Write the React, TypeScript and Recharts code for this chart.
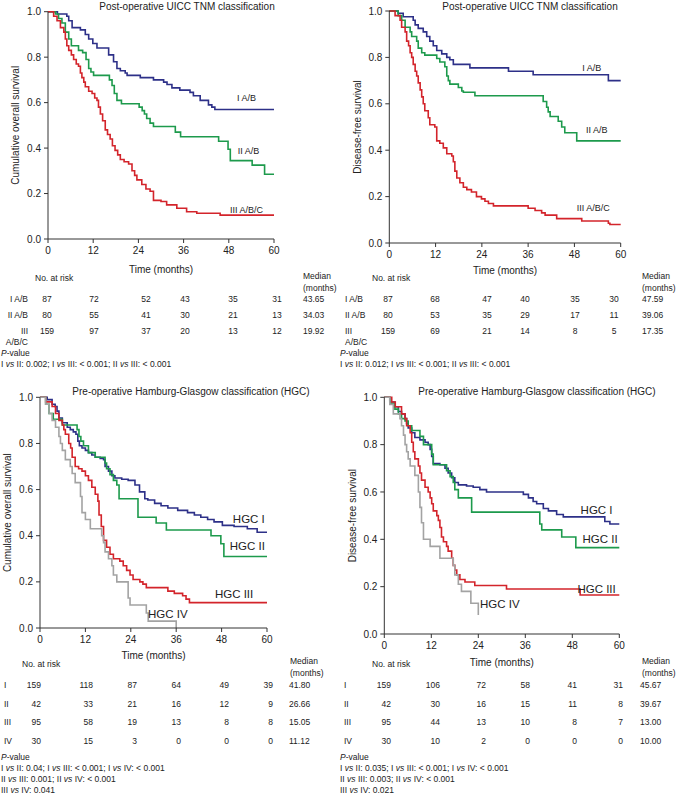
import React from 'react';
import { LineChart, Line, XAxis, YAxis, ReferenceDot } from 'recharts';

type Step = [number, number]; // [months, survival after the drop]

const MONTH_TICKS = [0, 12, 24, 36, 48, 60];
const SURV_TICKS = [0, 0.2, 0.4, 0.6, 0.8, 1];

// --- overall survival, UICC TNM ---
const osUiccI: Step[] = [
  [0, 1], [2.5, 0.99], [5, 0.98], [5.5, 0.96], [6.4, 0.93], [8.6, 0.92], [9.9, 0.9], [10.8, 0.88],
  [11.9, 0.86], [13, 0.84], [16.1, 0.81], [17.4, 0.78], [18.3, 0.75], [19.2, 0.74], [20.5, 0.73],
  [21, 0.72], [24.5, 0.71], [28, 0.7], [30.7, 0.69], [31.6, 0.68], [32.9, 0.665], [35, 0.655],
  [37.7, 0.645], [38.6, 0.63], [40.4, 0.61], [42.6, 0.59], [43.5, 0.58], [44.3, 0.57], [60, 0.57],
];
const osUiccII: Step[] = [
  [0, 1], [2, 0.99], [2.8, 0.97], [3.7, 0.95], [4.6, 0.91], [5.5, 0.88], [6.2, 0.85], [8.1, 0.83],
  [9.2, 0.82], [10.1, 0.79], [10.8, 0.75], [11.4, 0.735], [12.1, 0.72], [16.3, 0.7], [17, 0.675],
  [17.6, 0.64], [18.3, 0.61], [19.5, 0.595], [24.2, 0.58], [25, 0.565], [25.6, 0.55], [26.2, 0.53],
  [27.1, 0.51], [28, 0.495], [33.8, 0.47], [35.2, 0.45], [45.3, 0.43], [47.8, 0.395], [48.4, 0.345],
  [54.2, 0.325], [57.5, 0.285], [60, 0.285],
];
const osUiccIII: Step[] = [
  [0, 1], [1.5, 0.98], [2.4, 0.96], [3.3, 0.93], [4.2, 0.91], [4.6, 0.88], [5, 0.85], [5.5, 0.83],
  [6.2, 0.81], [6.8, 0.79], [7.5, 0.77], [8.1, 0.76], [8.6, 0.73], [9, 0.71], [9.5, 0.69], [9.9, 0.67],
  [10.8, 0.65], [11.7, 0.64], [12.4, 0.62], [13, 0.61], [13.4, 0.58], [13.9, 0.55], [14.5, 0.52],
  [15.2, 0.48], [15.8, 0.46], [16.5, 0.44], [17.1, 0.41], [17.8, 0.39], [18.5, 0.37], [19.2, 0.35],
  [20.2, 0.34], [21.4, 0.33], [22.3, 0.3], [23, 0.28], [23.6, 0.26], [24.9, 0.24], [26, 0.22],
  [27.1, 0.21], [28, 0.17], [30, 0.165], [31.5, 0.15], [34.2, 0.135], [36.8, 0.12], [39.5, 0.113],
  [45.7, 0.105], [60, 0.105],
];

// --- disease-free survival, UICC TNM ---
const dfsUiccI: Step[] = [
  [0, 1], [2.3, 0.99], [3.6, 0.975], [6.2, 0.96], [6.7, 0.94], [7.5, 0.925], [8.8, 0.91], [9.7, 0.89],
  [10.5, 0.87], [11.4, 0.85], [12.3, 0.83], [13.6, 0.815], [14.9, 0.8], [15.7, 0.79], [16.6, 0.77],
  [20.9, 0.755], [30.9, 0.74], [37.3, 0.725], [56.8, 0.7], [60, 0.7],
];
const dfsUiccII: Step[] = [
  [0, 1], [2.3, 0.98], [3.2, 0.96], [4.1, 0.93], [5.4, 0.91], [5.8, 0.89], [7.1, 0.87], [7.5, 0.84],
  [8.4, 0.82], [9.2, 0.81], [12.3, 0.795], [13.1, 0.78], [14.4, 0.76], [14.9, 0.72], [15.3, 0.7],
  [15.7, 0.685], [17.9, 0.67], [18.8, 0.655], [19.2, 0.65], [22.2, 0.635], [39.9, 0.61], [40.8, 0.585],
  [41.2, 0.565], [41.7, 0.545], [43.8, 0.525], [44.7, 0.5], [45.5, 0.475], [48.6, 0.44], [60, 0.44],
];
const dfsUiccIII: Step[] = [
  [0, 1], [1.5, 0.98], [2.8, 0.96], [3.2, 0.93], [4.1, 0.91], [4.5, 0.87], [5, 0.85], [5.4, 0.82],
  [5.8, 0.8], [6.2, 0.77], [6.7, 0.74], [7.1, 0.72], [7.5, 0.69], [8, 0.66], [8.4, 0.63], [8.8, 0.6],
  [9.2, 0.57], [10.1, 0.54], [10.5, 0.51], [11.8, 0.5], [12.3, 0.44], [13.1, 0.43], [14, 0.41],
  [14.9, 0.385], [16.2, 0.375], [16.6, 0.35], [17, 0.31], [17.5, 0.28], [18.3, 0.26], [19.2, 0.24],
  [20.1, 0.23], [21.3, 0.22], [22.6, 0.2], [23.9, 0.19], [24.8, 0.18], [25.7, 0.17], [27, 0.16],
  [36, 0.15], [37.8, 0.14], [39.5, 0.13], [40.4, 0.12], [43.4, 0.105], [49.9, 0.095], [56.8, 0.085],
  [57.2, 0.08], [60, 0.08],
];

// --- overall survival, HGC ---
const osHgcI: Step[] = [
  [0, 1], [1.9, 0.99], [3.2, 0.97], [4, 0.96], [4.5, 0.94], [5, 0.91], [5.9, 0.89], [7.2, 0.87],
  [8, 0.86], [8.8, 0.85], [9.5, 0.84], [10, 0.81], [10.4, 0.79], [11.1, 0.78], [12, 0.77], [12.8, 0.76],
  [13.7, 0.75], [14.6, 0.74], [15.9, 0.735], [16.8, 0.73], [17.2, 0.7], [18.1, 0.68], [19, 0.66],
  [19.8, 0.65], [21.6, 0.645], [23.3, 0.64], [25.1, 0.62], [26.3, 0.59], [27.7, 0.56], [28.5, 0.555],
  [30.3, 0.54], [32, 0.53], [33.8, 0.52], [36.4, 0.51], [39, 0.5], [40.8, 0.49], [42.5, 0.48],
  [44.3, 0.47], [46, 0.46], [48.2, 0.445], [51.3, 0.44], [54.8, 0.43], [57.4, 0.415], [60, 0.415],
];
const osHgcII: Step[] = [
  [0, 1], [1.5, 0.97], [2.4, 0.93], [3.5, 0.905], [5.9, 0.88], [9.8, 0.86], [10.3, 0.83], [10.8, 0.81],
  [11.5, 0.79], [12.8, 0.76], [14.6, 0.74], [17.2, 0.715], [17.6, 0.69], [18.5, 0.665], [19.4, 0.64],
  [20.3, 0.62], [20.9, 0.56], [25.9, 0.48], [30.7, 0.455], [33.4, 0.425], [45.2, 0.4], [47.8, 0.365],
  [48.6, 0.31], [60, 0.31],
];
const osHgcIII: Step[] = [
  [0, 1], [1.5, 0.98], [3.2, 0.96], [4.1, 0.93], [5, 0.9], [5.9, 0.88], [6.3, 0.86], [6.7, 0.84],
  [7.6, 0.8], [8.1, 0.78], [8.5, 0.74], [9.3, 0.7], [10.2, 0.69], [11.1, 0.68], [12, 0.66], [12.8, 0.64],
  [13.7, 0.61], [14.6, 0.58], [15.3, 0.55], [15.6, 0.49], [16.2, 0.44], [16.8, 0.38], [17.6, 0.35],
  [18.5, 0.32], [19.4, 0.3], [21.1, 0.29], [22, 0.27], [22.9, 0.25], [23.8, 0.23], [24.6, 0.21],
  [26.4, 0.2], [27.2, 0.19], [28.1, 0.175], [33.8, 0.16], [35.5, 0.15], [37.7, 0.14], [38.6, 0.125],
  [39.5, 0.11], [60, 0.11],
];
const osHgcIV: Step[] = [
  [0, 1], [1.5, 0.97], [2.4, 0.93], [3.2, 0.9], [4.1, 0.87], [5, 0.83], [5.4, 0.8], [5.9, 0.77],
  [6.7, 0.73], [8, 0.7], [8.5, 0.67], [9.3, 0.63], [10.7, 0.57], [11.1, 0.5], [12, 0.47], [13.3, 0.43],
  [16.3, 0.4], [16.8, 0.37], [17.2, 0.33], [18.1, 0.3], [19, 0.27], [19.4, 0.23], [20.3, 0.2],
  [23.3, 0.13], [23.8, 0.1], [28.1, 0.065], [28.6, 0.03], [36, 0],
];

// --- disease-free survival, HGC ---
const dfsHgcI: Step[] = [
  [0, 1], [1.4, 0.98], [2.7, 0.96], [3.6, 0.94], [4.4, 0.93], [5.3, 0.91], [5.7, 0.89], [6.1, 0.87],
  [7, 0.85], [7.8, 0.83], [9.1, 0.82], [10.4, 0.81], [11.2, 0.8], [11.7, 0.78], [12.1, 0.75], [12.5, 0.72],
  [14.2, 0.715], [15.5, 0.7], [16.3, 0.68], [17.2, 0.66], [18, 0.64], [18.9, 0.63], [21, 0.625],
  [22.7, 0.62], [24.4, 0.61], [26.1, 0.6], [35.5, 0.59], [36.8, 0.575], [38, 0.56], [38.9, 0.55],
  [40.6, 0.53], [41.9, 0.52], [44, 0.505], [45.7, 0.495], [56.3, 0.475], [57.6, 0.465], [60, 0.465],
];
const dfsHgcII: Step[] = [
  [0, 1], [1.4, 0.975], [2.7, 0.95], [3.6, 0.93], [4.4, 0.91], [5.3, 0.9], [6.1, 0.88], [7, 0.86],
  [9.1, 0.835], [10, 0.8], [12.1, 0.76], [12.5, 0.715], [15.9, 0.69], [16.8, 0.665], [17.6, 0.64],
  [18, 0.61], [18.9, 0.575], [22.3, 0.515], [39.7, 0.465], [40.2, 0.44], [45.3, 0.41], [48.9, 0.365],
  [60, 0.365],
];
const dfsHgcIII: Step[] = [
  [0, 1], [1.9, 0.98], [2.8, 0.96], [4.4, 0.93], [5.3, 0.91], [5.7, 0.88], [6.6, 0.85], [7, 0.81],
  [7.4, 0.77], [7.8, 0.74], [8.7, 0.71], [9.1, 0.68], [9.5, 0.65], [10.4, 0.62], [11.2, 0.6],
  [11.7, 0.575], [12.1, 0.55], [12.5, 0.52], [13.4, 0.5], [13.8, 0.48], [14.2, 0.45], [14.6, 0.41],
  [15.1, 0.39], [15.9, 0.37], [16.3, 0.35], [17.2, 0.32], [17.6, 0.29], [18, 0.27], [18.5, 0.25],
  [19.3, 0.23], [20.6, 0.22], [23.1, 0.205], [31.2, 0.19], [50, 0.165], [60, 0.165],
];
const dfsHgcIV: Step[] = [
  [0, 1], [1.4, 0.97], [2.3, 0.93], [4, 0.91], [4.4, 0.88], [4.9, 0.84], [5.3, 0.8], [5.7, 0.77],
  [6.1, 0.74], [6.6, 0.71], [7.8, 0.67], [8.7, 0.6], [9.1, 0.535], [9.5, 0.47], [10, 0.4], [11.7, 0.37],
  [14.2, 0.32], [17.6, 0.29], [18, 0.25], [18.9, 0.21], [19.7, 0.18], [22.1, 0.13], [24, 0.08],
];

// --- numbers at risk / medians / p-values ---
const uiccLabels = ['I A/B', 'II A/B', 'III A/B/C'];
const osUiccRisk = [[87, 72, 52, 43, 35, 31], [80, 55, 41, 30, 21, 13], [159, 97, 37, 20, 13, 12]];
const osUiccMedian = ['43.65', '34.03', '19.92'];
const dfsUiccRisk = [[87, 68, 47, 40, 35, 30], [80, 53, 35, 29, 17, 11], [159, 69, 21, 14, 8, 5]];
const dfsUiccMedian = ['47.59', '39.06', '17.35'];

const hgcLabels = ['I', 'II', 'III', 'IV'];
const osHgcRisk = [[159, 118, 87, 64, 49, 39], [42, 33, 21, 16, 12, 9], [95, 58, 19, 13, 8, 8], [30, 15, 3, 0, 0, 0]];
const osHgcMedian = ['41.80', '26.66', '15.05', '11.12'];
const dfsHgcRisk = [[159, 106, 72, 58, 41, 31], [42, 30, 16, 15, 11, 8], [95, 44, 13, 10, 8, 7], [30, 10, 2, 0, 0, 0]];
const dfsHgcMedian = ['45.67', '39.67', '13.00', '10.00'];

const osUiccP = ['I vs II: 0.002; I vs III: < 0.001; II vs III: < 0.001'];
const dfsUiccP = ['I vs II: 0.012; I vs III: < 0.001; II vs III: < 0.001'];
const osHgcP = ['I vs II: 0.04; I vs III: < 0.001; I vs IV: < 0.001', 'II vs III: 0.001; II vs IV: < 0.001', 'III vs IV: 0.041'];
const dfsHgcP = ['I vs II: 0.035; I vs III: < 0.001; I vs IV: < 0.001', 'II vs III: 0.003; II vs IV: < 0.001', 'III vs IV: 0.021'];

const BLUE = '#2d3088';
const GREEN = '#1d9a4c';
const RED = '#d3242b';
const GREY = '#a3a3a3';
const INK = '#222';
const FONT = "'Liberation Sans', Arial, sans-serif";

const toRows = (steps: Step[]) => steps.map(([t, s]) => ({ t, s }));

interface Curve {
  name: string;
  color: string;
  steps: Step[];
  labelAt: [number, number];
}

interface PanelProps {
  left: number;
  top: number;
  width: number;
  height: number;
  yAxisWidth: number;
  margin: { top: number; right: number };
  xAxisHeight: number;
  yLabel: string;
  yLabelOffset: number;
  curves: Curve[];
  labelSize: number;
}

function KmPanel(p: PanelProps) {
  return (
    <div style={{ position: 'absolute', left: p.left, top: p.top }}>
      <LineChart
        width={p.width}
        height={p.height}
        margin={{ top: p.margin.top, right: p.margin.right, bottom: 0, left: 0 }}
      >
        <XAxis
          type="number"
          dataKey="t"
          domain={[0, 60]}
          ticks={MONTH_TICKS}
          interval={0}
          height={p.xAxisHeight}
          stroke="#333"
          tickSize={4}
          tickMargin={4}
          tick={{ fontSize: 10, fill: INK, fontFamily: FONT }}
          label={{ value: 'Time (months)', position: 'insideBottom', offset: 4, fontSize: 10, fill: INK, fontFamily: FONT }}
        />
        <YAxis
          type="number"
          domain={[0, 1]}
          ticks={SURV_TICKS}
          interval={0}
          width={p.yAxisWidth}
          stroke="#333"
          tickSize={4}
          tickMargin={3}
          tickFormatter={(v: number) => v.toFixed(1)}
          tick={{ fontSize: 10, fill: INK, fontFamily: FONT }}
          label={{
            value: p.yLabel,
            angle: -90,
            position: 'insideLeft',
            offset: p.yLabelOffset,
            fontSize: 10,
            fill: INK,
            fontFamily: FONT,
            style: { textAnchor: 'middle' },
          }}
        />
        {p.curves.map((c) => (
          <Line
            key={c.name}
            data={toRows(c.steps)}
            dataKey="s"
            type="stepAfter"
            stroke={c.color}
            strokeWidth={1.6}
            dot={false}
            isAnimationActive={false}
          />
        ))}
        {p.curves.map((c) => (
          <ReferenceDot
            key={'lbl' + c.name}
            x={c.labelAt[0]}
            y={c.labelAt[1]}
            r={0}
            fill="none"
            stroke="none"
            label={{ value: c.name, position: 'center', fontSize: p.labelSize, fill: INK, fontFamily: FONT }}
          />
        ))}
      </LineChart>
    </div>
  );
}

function T({ x, y, children, size = 8.5, align = 'left', w = 0, italic = false }: {
  x: number; y: number; children: React.ReactNode; size?: number; align?: 'left' | 'center' | 'right'; w?: number; italic?: boolean;
}) {
  // y is the vertical centre of the first line
  const lh = size + 2.5;
  let left = x;
  if (align === 'center') left = x - w / 2;
  if (align === 'right') left = x - w;
  return (
    <div
      style={{
        position: 'absolute',
        left,
        top: y - lh / 2,
        width: w || undefined,
        textAlign: align,
        fontSize: size,
        lineHeight: `${lh}px`,
        whiteSpace: w ? 'normal' : 'nowrap',
        fontStyle: italic ? 'italic' : 'normal',
        color: INK,
      }}
    >
      {children}
    </div>
  );
}

function PLine({ text }: { text: string }) {
  const parts = text.split(' vs ');
  return (
    <>
      {parts.map((part, i) => (
        <React.Fragment key={i}>
          {i > 0 && <i> vs </i>}
          {part}
        </React.Fragment>
      ))}
    </>
  );
}

interface TableProps {
  labels: string[];
  labelX: number;
  labelAlign: 'left' | 'right';
  counts: number[][];
  colX: number[];
  colAlign: 'center' | 'right';
  medians: string[];
  medianX: number;
  rowY: number[];
  headY: number;
  noRiskX: number;
  medianHeadX: number;
  medianHeadY: number;
  pValues: string[];
  pX: number;
  pY: number;
}

function RiskTable(t: TableProps) {
  return (
    <>
      <T x={t.noRiskX} y={t.headY}>No. at risk</T>
      <T x={t.medianHeadX} y={t.medianHeadY}>Median</T>
      <T x={t.medianHeadX} y={t.medianHeadY + 12}>(months)</T>
      {t.labels.map((lab, r) => (
        <T key={lab} x={t.labelX} y={t.rowY[r]} align={t.labelAlign} w={24}>{lab}</T>
      ))}
      {t.counts.map((row, r) =>
        row.map((n, c) => (
          <T key={`${r}-${c}`} x={t.colX[c]} y={t.rowY[r]} align={t.colAlign} w={30}>{n}</T>
        )),
      )}
      {t.medians.map((m, r) => (
        <T key={'m' + r} x={t.medianX} y={t.rowY[r]}>{m}</T>
      ))}
      <T x={t.pX} y={t.pY}><i>P</i>-value</T>
      {t.pValues.map((line, i) => (
        <T key={'p' + i} x={t.pX} y={t.pY + 11 * (i + 1)}><PLine text={line} /></T>
      ))}
    </>
  );
}

export default function App() {
  return (
    <div
      style={{
        position: 'absolute',
        left: 0,
        top: 0,
        width: 685,
        height: 795,
        background: '#fff',
        overflow: 'hidden',
        fontFamily: FONT,
      }}
    >
      {/* titles */}
      <T x={187} y={7} size={10} align="center" w={260}>Post-operative UICC TNM classification</T>
      <T x={530} y={7} size={10} align="center" w={260}>Post-operative UICC TNM classification</T>
      <T x={191} y={392} size={10} align="center" w={300}>Pre-operative Hamburg-Glasgow classification (HGC)</T>
      <T x={537} y={392} size={10} align="center" w={300}>Pre-operative Hamburg-Glasgow classification (HGC)</T>

      <KmPanel
        left={0}
        top={0}
        width={290}
        height={277}
        yAxisWidth={48}
        margin={{ top: 11.7, right: 16 }}
        xAxisHeight={38}
        yLabel="Cumulative overall survival"
        yLabelOffset={15}
        labelSize={9}
        curves={[
          { name: 'I A/B', color: BLUE, steps: osUiccI, labelAt: [52.7, 0.62] },
          { name: 'II A/B', color: GREEN, steps: osUiccII, labelAt: [53.2, 0.39] },
          { name: 'III A/B/C', color: RED, steps: osUiccIII, labelAt: [52.7, 0.13] },
        ]}
      />
      <KmPanel
        left={340}
        top={0}
        width={300}
        height={278}
        yAxisWidth={49.3}
        margin={{ top: 11, right: 19.3 }}
        xAxisHeight={35}
        yLabel="Disease-free survival"
        yLabelOffset={17}
        labelSize={9}
        curves={[
          { name: 'I A/B', color: BLUE, steps: dfsUiccI, labelAt: [52.5, 0.756] },
          { name: 'II A/B', color: GREEN, steps: dfsUiccII, labelAt: [53.8, 0.49] },
          { name: 'III A/B/C', color: RED, steps: dfsUiccIII, labelAt: [52.9, 0.15] },
        ]}
      />
      <KmPanel
        left={0}
        top={385}
        width={285}
        height={278}
        yAxisWidth={40}
        margin={{ top: 12.3, right: 18 }}
        xAxisHeight={35}
        yLabel="Cumulative overall survival"
        yLabelOffset={7}
        labelSize={11.5}
        curves={[
          { name: 'HGC I', color: BLUE, steps: osHgcI, labelAt: [55.2, 0.472] },
          { name: 'HGC II', color: GREEN, steps: osHgcII, labelAt: [54.8, 0.356] },
          { name: 'HGC III', color: RED, steps: osHgcIII, labelAt: [51.3, 0.149] },
          { name: 'HGC IV', color: GREY, steps: osHgcIV, labelAt: [33.8, 0.062] },
        ]}
      />
      <KmPanel
        left={340}
        top={385}
        width={300}
        height={285}
        yAxisWidth={44.3}
        margin={{ top: 12.3, right: 20.7 }}
        xAxisHeight={36}
        yLabel="Disease-free survival"
        yLabelOffset={12}
        labelSize={11.5}
        curves={[
          { name: 'HGC I', color: BLUE, steps: dfsHgcI, labelAt: [54.2, 0.523] },
          { name: 'HGC II', color: GREEN, steps: dfsHgcII, labelAt: [55.1, 0.4] },
          { name: 'HGC III', color: RED, steps: dfsHgcIII, labelAt: [54.2, 0.19] },
          { name: 'HGC IV', color: GREY, steps: dfsHgcIV, labelAt: [29.5, 0.127] },
        ]}
      />

      <RiskTable
        labels={uiccLabels}
        labelX={28}
        labelAlign="right"
        counts={osUiccRisk}
        colX={[47, 94, 146, 185, 233, 277]}
        colAlign="center"
        medians={osUiccMedian}
        medianX={303}
        rowY={[299, 315, 331]}
        headY={278}
        noRiskX={35}
        medianHeadX={303}
        medianHeadY={276}
        pValues={osUiccP}
        pX={1}
        pY={353}
      />
      <RiskTable
        labels={uiccLabels}
        labelX={345}
        labelAlign="left"
        counts={dfsUiccRisk}
        colX={[388, 435, 487, 525, 575, 614]}
        colAlign="center"
        medians={dfsUiccMedian}
        medianX={642}
        rowY={[299, 315, 331]}
        headY={278}
        noRiskX={372}
        medianHeadX={642}
        medianHeadY={276}
        pValues={dfsUiccP}
        pX={340}
        pY={353}
      />
      <RiskTable
        labels={hgcLabels}
        labelX={4}
        labelAlign="left"
        counts={osHgcRisk}
        colX={[41, 93, 137, 181, 229, 273]}
        colAlign="right"
        medians={osHgcMedian}
        medianX={289}
        rowY={[685, 704, 722, 741]}
        headY={664}
        noRiskX={22}
        medianHeadX={290}
        medianHeadY={661}
        pValues={osHgcP}
        pX={1}
        pY={757}
      />
      <RiskTable
        labels={hgcLabels}
        labelX={344}
        labelAlign="left"
        counts={dfsHgcRisk}
        colX={[391, 440, 486, 530, 577, 623]}
        colAlign="right"
        medians={dfsHgcMedian}
        medianX={640}
        rowY={[685, 704, 722, 741]}
        headY={664}
        noRiskX={372}
        medianHeadX={642}
        medianHeadY={661}
        pValues={dfsHgcP}
        pX={340}
        pY={757}
      />
    </div>
  );
}
